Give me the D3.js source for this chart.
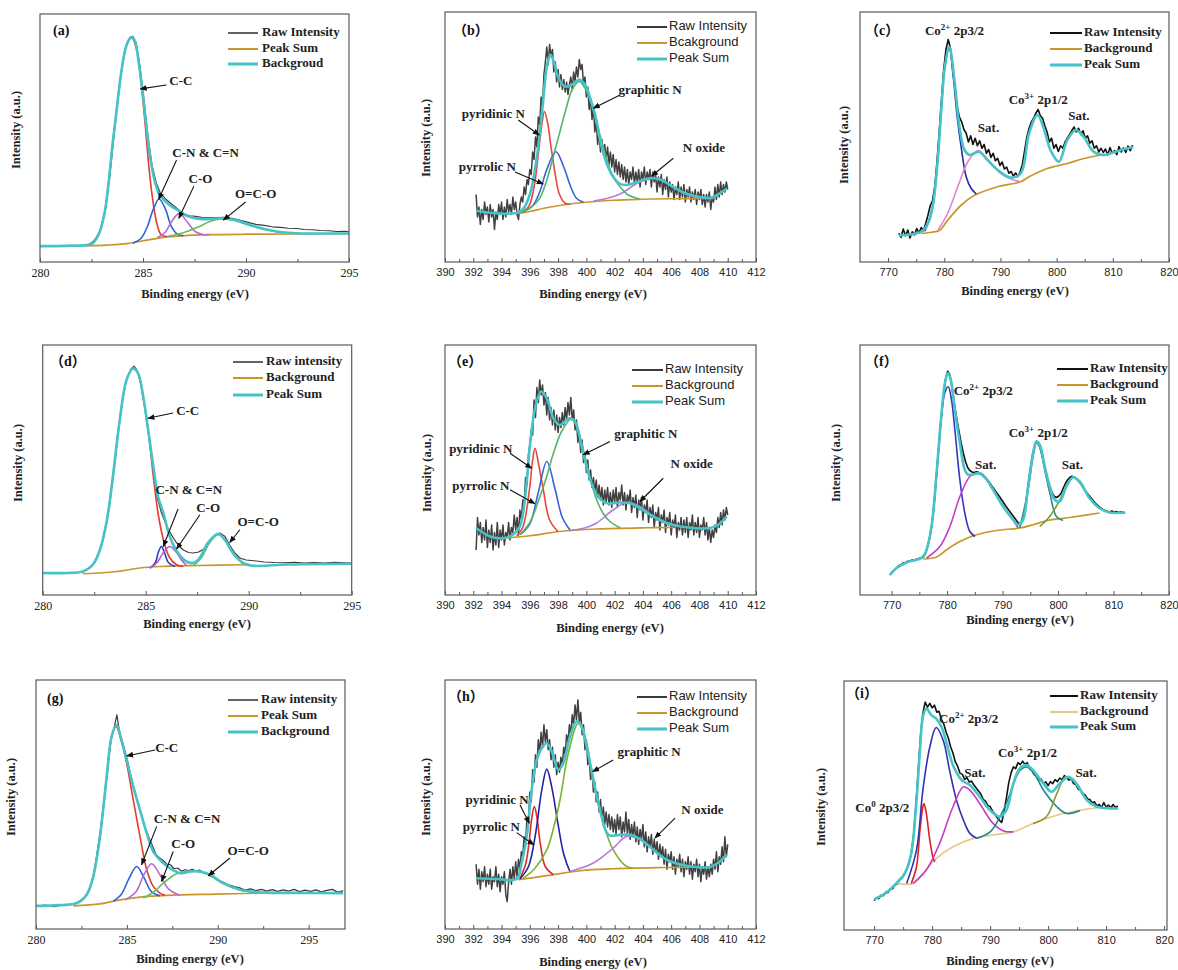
<!DOCTYPE html>
<html><head><meta charset="utf-8">
<script src="https://cdn.jsdelivr.net/npm/d3@7"></script>
<style>body{margin:0;background:#fff}svg{display:block}</style>
</head><body>
<svg id="chart" width="1178" height="970"></svg>
<script>
// ======================= DATA (eV, intensity in % of plot height) =======================
// ---- (a) C 1s ----
const aRaw = [[280.0,6.3],[280.49,6.6],[280.98,6.4],[281.47,6.7],[281.96,6.5],[282.35,7.0],[282.65,8.6],[282.94,13],[283.19,22],[283.38,34],[283.58,50],[283.77,65],[283.97,78],[284.17,87],[284.36,90.5],[284.51,91],[284.66,88.5],[284.85,79],[285.05,65],[285.25,50],[285.44,39],[285.64,32],[285.83,28],[286.08,25.5],[286.37,23.5],[286.67,21.5],[286.96,19.5],[287.25,18.6],[287.55,18.4],[287.84,18.0],[288.14,17.8],[288.53,17.9],[288.92,18.0],[289.31,17.6],[289.71,16.8],[290.1,16.0],[290.49,15.2],[290.88,14.8],[291.27,14.2],[291.67,14.0],[292.06,13.6],[292.45,13.5],[292.84,13.1],[293.24,13.0],[293.63,12.7],[294.02,12.6],[294.41,12.3],[294.8,12.4],[295.0,12.2]];
const aEnv = [[280,6.4],[281.27,6.5],[282.25,6.8],[282.55,7.5],[282.84,11],[283.14,20],[283.33,32],[283.53,48],[283.73,62],[283.92,75],[284.12,85],[284.31,89.5],[284.46,90.6],[284.61,89],[284.8,80],[285.0,67],[285.2,52],[285.39,40],[285.59,32],[285.78,27.5],[286.08,24.5],[286.37,22.5],[286.76,20.5],[287.16,18.5],[287.65,17.5],[288.14,17.3],[288.82,17.6],[289.41,17],[290.1,15.2],[290.88,13.3],[291.57,12.2],[292.25,11.7],[293.04,11.5],[295,11.5]];
const aBg = [[282.25,6.5],[283.24,6.8],[284.22,7.4],[285.2,8.8],[286.18,10.1],[287.16,10.7],[288.14,11.0],[290.1,11.2],[292.06,11.3],[295,11.5]];
const aCC = [[282.45,7.2],[282.84,11],[283.14,20],[283.33,32],[283.53,48],[283.73,62],[283.92,75],[284.12,85],[284.31,89.5],[284.46,90.4],[284.71,85],[284.9,73],[285.1,56],[285.29,38],[285.49,24],[285.69,15],[285.88,11],[286.18,10.2]];
const aCN = [[284.51,7.6],[284.9,9.5],[285.2,14],[285.49,21],[285.78,25.4],[286.08,21.5],[286.37,14.5],[286.67,11.2],[286.96,10.6]];
const aCO = [[285.69,9.8],[286.08,12],[286.37,16],[286.76,19.6],[287.16,16],[287.55,12.2],[287.94,11],[288.24,10.9]];
const aOCO = [[286.18,10.3],[286.96,11.8],[287.65,14],[288.34,16.6],[288.82,17.4],[289.41,16.8],[290.1,15],[290.88,13.2],[291.57,12.1],[292.25,11.6]];
const aLegend = ['Raw Intensity','Peak Sum','Backgroud'];
const aNotes = [
 {t:'C-C', x:286.84, y:71.4, a:[286.14,71.4,284.87,69.8]},
 {t:'C-N & C=N', x:288.04, y:42.3, a:[286.63,41.1,285.76,25.3]},
 {t:'C-O', x:287.79, y:31.9, a:[287.47,30.6,286.74,17.6]},
 {t:'O=C-O', x:290.47, y:25.8, a:[289.98,24.2,288.9,16.9]}];

// ---- (b) N 1s ----
const bRawStart = 392.2, bRawStep = 0.1;
const bRaw = [27,18,22,15,21,17,24,19,22,16,
 23,18,21,13,20,17,23,19,24,17,
 22,18,25,20,23,19,26,21,24,19,
 17,23,26,24,30,27,33,31,37,35,
 44,41,50,46,58,55,66,62,75,80,
 86,79,87,82,85,76,80,72,77,70,
 75,69,73,68,72,67,71,74,69,76,
 72,78,74,81,77,79,71,74,66,70,
 61,65,57,62,52,56,47,52,44,49,
 43,47,41,46,39,44,38,43,36,41,
 35,40,34,39,33,38,32,37,31,36,
 33,38,31,36,32,37,30,36,33,38,
 31,36,33,37,30,36,32,35,28,34,
 30,35,27,33,29,34,26,32,28,31,
 25,30,27,32,25,30,26,31,24,29,
 26,30,24,28,25,29,23,28,25,29,
 23,27,22,27,24,28,21,26,24,30,
 25,31,26,32,27,31,28,32,29];
const bEnv = [[392.2,20.5],[393,19.8],[394,19.3],[395,19.6],[395.5,21],[396,27],[396.5,42],[396.9,62],[397.2,78],[397.45,83],[397.7,80],[398.0,74],[398.5,70.2],[399.0,71],[399.5,73],[399.9,71],[400.3,65],[400.7,57],[401.0,48],[401.4,40],[401.8,35],[402.3,31.5],[402.8,30.8],[403.5,31.8],[404.2,33.2],[404.75,33.6],[405.3,32.8],[406,30.5],[406.8,28],[407.6,26.5],[408.3,25.8],[408.8,25.7],[409.3,27],[409.95,29.4]];
const bBg = [[395.1,19.4],[396,20.2],[397,21.5],[398,22.5],[398.85,23.2],[400,23.9],[401.9,24.7],[404,25.1],[406,25.3],[409,25.4]];
const bPyridinic = [[395.3,19.8],[395.9,22],[396.3,30],[396.6,43],[396.85,55],[397.03,60.2],[397.25,56],[397.5,46],[397.8,35],[398.1,27],[398.5,23.5],[398.85,23.1]];
const bPyrrolic = [[395.5,20],[396.2,22.5],[396.7,28],[397.2,37],[397.85,44.1],[398.4,38],[398.9,30],[399.3,25.5],[399.8,23.9]];
const bGraphitic = [[395.3,19.8],[396.0,21.5],[396.7,25.5],[397.2,32.8],[397.7,43],[398.1,51.5],[398.6,62],[399.0,69],[399.5,72.2],[400.0,68.5],[400.5,60.8],[401.0,50],[401.4,42],[401.9,34],[402.4,30],[402.9,27],[403.3,26],[403.8,25.2]];
const bOxide = [[400.5,24.4],[401.5,25.5],[402.5,27.5],[403.3,30.5],[404,32.5],[404.74,33.4],[405.4,32.5],[406.1,30],[406.8,27.8],[407.5,26.2],[408.3,25.5]];
const bLegend = ['Raw Intensity','Bcakground','Peak Sum'];
const bNotes = [
 {t:'pyridinic N', x:393.42, y:57.6, a:[395.18,56.8,396.67,50.8]},
 {t:'pyrrolic N', x:393.0, y:36.4, a:[394.95,36.0,396.95,31.2]},
 {t:'graphitic N', x:404.5, y:67.2, a:[402.38,66.8,400.49,61.5]},
 {t:'N oxide', x:408.32, y:44.2, a:[406.15,41.5,404.62,34.4]}];

// ---- (c) Co 2p ----
const cRawStart = 771.9, cRawStep = 0.4;
const cRaw = [11.5,9.8,13.2,10.5,12.8,9.6,12.1,10.8,13.4,11.6,
 13.8,12.5,15.5,18.8,22.5,24.5,30,40,52,65,
 77,85,89,85.5,77,70,62,58,56,53,
 51.5,48,50.5,47,49.5,46.5,48.5,45.5,47,43.5,
 45,41.8,43.5,40.5,41.5,38.6,40,37.2,38,35.5,
 36.2,34.4,35.6,34.2,36,39,44.5,50,53.5,56,
 57.5,59.5,61,58.5,57.5,54.5,52,48,49.5,45.5,
 47,44.2,46.5,45.5,48,49.5,51,52.5,54,52,
 53.5,51,52.5,49.5,50.5,47.5,48.5,45.5,46.5,44,
 45.5,43.8,45.2,42.8,45.8,43.5,44.6,42.9,46.2,44,
 45.6,43.8,46.4,44.5,46.8];
const cEnv = [[771.9,10.5],[773,10.8],[774.5,11.2],[776,12.2],[777.2,16],[778,23],[778.8,40],[779.5,62],[780.1,78],[780.9,86],[781.8,72.9],[782.7,54.1],[783.6,44.8],[784.5,42.8],[786.2,44.1],[787.7,40.8],[789.5,36.8],[791.8,33.8],[793.6,35.4],[795.1,51.5],[796.6,58.8],[797.7,53.5],[798.9,44.8],[800.4,40.1],[801.9,48.8],[803.4,52.8],[804.8,50.1],[806.6,44.1],[808.4,42.8],[811,44.5],[813.7,46.1]];
const cBg = [[775.9,11.4],[777.5,11.8],[779.2,12.7],[780.6,16.7],[783,22.7],[785.4,26.7],[789.5,30.1],[793.6,32.1],[795.1,34.1],[798.3,37.4],[801.9,39.4],[804.5,41.2],[807.8,42.8]];
const cCo2 = [[776.5,12.3],[777.2,16],[778,23],[778.8,40],[779.5,62],[780.1,78],[780.9,85.6],[781.6,74],[782.3,58],[783,46.1],[783.9,34.1],[784.8,29.4],[785.7,27.2]];
const cSat = [[778.9,12.9],[780.6,19.4],[782.4,30.1],[784.2,40.1],[786.0,44.6],[787.7,41.1],[790.1,35.4],[792.4,32.8],[793.6,32.1]];
const cLegend = ['Raw Intensity','Background','Peak Sum'];
const cNotes = [
 {t:[['Co'],['2+',1],[' 2p3/2']], x:781.81, y:90.9},
 {t:'Sat.', x:787.87, y:52.0},
 {t:[['Co'],['3+',1],[' 2p1/2']], x:796.72, y:63.2},
 {t:'Sat.', x:803.97, y:56.8}];

// ---- (d) C 1s ----
const dRaw = [[279.99,8.7],[280.67,8.9],[281.35,8.6],[281.94,9.2],[282.33,11],[282.63,14.5],[282.92,22],[283.12,30],[283.31,41],[283.51,54],[283.7,67],[283.9,79],[284.09,87],[284.29,90.5],[284.44,91.5],[284.58,90],[284.78,84],[284.97,74],[285.17,62],[285.37,50],[285.56,39],[285.76,33],[285.95,29],[286.15,25.5],[286.35,22.7],[286.59,19.8],[286.83,18],[287.08,17.0],[287.32,16.8],[287.57,17.2],[287.81,18.3],[288.06,21.0],[288.3,23.5],[288.6,24.8],[288.84,23.5],[289.09,19.8],[289.33,16.8],[289.57,14.8],[289.87,14.0],[290.26,13.7],[290.75,13.2],[291.24,13.0],[291.73,12.9],[292.22,13.1],[292.71,12.8],[293.19,13.0],[293.68,12.8],[294.17,13.1],[294.66,12.9],[295.0,12.8]];
const dEnv = [[279.99,8.8],[281.16,8.8],[281.94,9.4],[282.43,12.1],[282.78,18.1],[283.12,30.1],[283.41,47.4],[283.74,70],[284.07,86],[284.39,90.7],[284.63,88.7],[284.88,79.4],[285.12,66],[285.37,51.4],[285.6,39.4],[285.86,32.7],[286.17,23.4],[286.57,16.8],[286.98,13.4],[287.3,12.8],[287.62,14.8],[288.01,20.8],[288.52,24.5],[288.84,22.1],[289.24,16.8],[289.73,12.8],[290.22,11.7],[291.92,12.2],[295.0,12.5]];
const dBg = [[281.94,8.5],[282.92,8.9],[283.58,9.4],[284.09,10.0],[284.71,10.8],[285.68,11.4],[287.62,11.8],[289.9,12.1]];
const dCC = [[281.94,9.3],[282.43,12.1],[282.78,18.1],[283.12,30.1],[283.41,47.4],[283.74,70],[284.07,86],[284.39,90.5],[284.63,88.5],[284.88,79],[285.12,66],[285.37,47.4],[285.6,32.7],[285.86,22.1],[286.17,14.8],[286.5,12.1],[286.82,11.4]];
const dCN = [[285.2,10.7],[285.47,13],[285.61,17],[285.76,19.4],[285.91,17],[286.1,13],[286.42,11.4]];
const dCO = [[285.2,10.7],[285.56,13],[285.86,17],[286.17,19.4],[286.45,17.5],[286.74,14],[286.98,11.8]];
const dOCO = [[287.32,11.8],[287.71,15],[288.11,21],[288.52,24.1],[288.89,21.5],[289.28,16],[289.77,12.2]];
const dLegend = ['Raw intensity','Background','Peak Sum'];
const dNotes = [
 {t:'C-C', x:287.04, y:72.0, a:[286.33,72.8,285.11,70.7]},
 {t:'C-N & C=N', x:287.09, y:40.5, a:[286.57,34.4,285.85,19.4]},
 {t:'C-O', x:288.03, y:33.4, a:[287.63,32.1,286.5,18.4]},
 {t:'O=C-O', x:290.46, y:27.7, a:[289.57,26.1,289.08,21.0]}];

// ---- (e) N 1s ----
const eRawStart = 392.2, eRawStep = 0.1;
const eRaw = [18,31,24,29,21,27,22,30,19,26,
 21,28,18,25,20,29,19,26,22,28,
 20,25,23,29,22,27,25,32,26,31,
 24,34,30,38,36,47,44,56,60,66,
 64,78,71,83,77,86,80,84,76,81,
 72,79,70,75,68,74,66,72,65,71,
 67,73,68,75,70,77,72,79,70,74,
 66,70,61,65,57,62,53,57,49,54,
 46,50,43,47,41,46,39,44,38,43,
 36,42,37,43,36,41,35,42,37,43,
 35,41,38,44,36,41,34,40,37,42,
 33,39,35,40,31,38,34,39,30,36,
 33,38,29,35,31,36,27,33,30,35,
 26,32,29,34,25,31,28,33,24,30,
 27,32,23,29,26,31,24,30,25,31,
 23,29,26,32,24,29,25,31,23,28,
 26,31,24,29,22,27,21,26,23,28,
 25,31,27,33,28,34,30,35,32];
const eEnv = [[392.2,26.8],[393.2,23.4],[394.1,22.7],[394.8,24.1],[395.3,27.4],[395.7,40.7],[396.0,59.4],[396.4,75.4],[396.8,81.4],[397.2,78.7],[397.67,70.7],[398.1,68],[398.8,70.7],[399.2,69.4],[399.67,59.4],[400.14,48.7],[400.73,40.1],[401.44,36.7],[402.38,37],[403.1,36.7],[403.8,34.7],[404.74,31.4],[405.68,28.8],[407.1,27.1],[408.75,26.8],[409.3,28],[409.93,31.4]];
const eBg = [[394.13,22.7],[396.0,23.7],[398.1,25.4],[400.73,26.4],[404.27,26.9],[406.15,27]];
const ePyridinic = [[395.07,23.7],[395.5,27],[395.97,42],[396.2,54],[396.37,58.7],[396.6,53],[396.96,42],[397.4,30],[398.0,25.3]];
const ePyrrolic = [[395.3,24.1],[396.0,28.5],[396.6,41],[397.2,53.4],[397.8,42],[398.3,31],[398.84,26]];
const eGraphitic = [[395.3,24.1],[396.0,29],[396.72,39.4],[397.2,47.5],[397.67,56.7],[398.3,66],[398.96,70.5],[399.4,66],[399.9,55.4],[400.3,46],[400.73,38.1],[401.2,32.5],[401.67,29.4],[402.4,26.8]];
const eOxide = [[398.84,25.8],[400.0,27],[400.73,28.8],[401.9,34.1],[402.85,37],[403.8,35.4],[404.74,31.4],[405.9,28.1],[407.1,27.1]];
const eLegend = ['Raw Intensity','Background','Peak Sum'];
const eNotes = [
 {t:'pyridinic N', x:392.53, y:56.9, a:[394.6,56.7,396.13,50.7]},
 {t:'pyrrolic N', x:392.53, y:42.1, a:[394.6,42.1,396.36,36.5]},
 {t:'graphitic N', x:404.2, y:62.8, a:[401.67,61.4,399.78,56.1]},
 {t:'N oxide', x:407.45, y:50.9, a:[405.44,46.7,403.79,37.4]}];

// ---- (f) Co 2p ----
const fRawStart = 769.7, fRawStep = 0.4;
const fRaw = [8.0,9.2,10.0,10.9,11.8,12.1,12.8,13.0,13.5,13.6,
 14.0,13.9,14.3,14.6,14.8,15.5,16.8,19.5,23.5,29,
 37,48,59,70,79,86,89.5,88,83,76.5,
 71,66,61,57,53.5,51,49.8,49.2,49,49.3,
 49,48.6,48,47,46,44.8,43.5,42.3,41,39.8,
 38.5,37.2,35.8,34.6,33.4,32.2,31,29.8,28.6,28.8,
 30.5,35,42,49,55,59,61.5,61,58,54,
 50,46.5,43.5,41,39.5,39,39.5,40.5,42.5,44.5,
 46,47,47.5,47.2,46.5,45.5,44.5,43,41.8,40.6,
 39.5,38.4,37.3,36.4,35.6,34.8,34.2,33.8,33.5,33.2,
 33.6,33.1,33.4,33.0,33.3,32.9,33.0];
const fEnv = [[769.7,8.1],[770.9,10.8],[772.7,13],[774.5,14.1],[775.7,15.2],[776.3,18.1],[777.2,27.4],[778.1,48.7],[779.0,72.7],[779.6,84.7],[780.1,88.7],[780.6,86.7],[781.4,74],[782.3,60.7],[783.2,50],[783.8,48.1],[785.0,48.4],[785.9,48.7],[787.1,46.3],[788.3,42.1],[790.1,35.4],[791.9,30.1],[792.8,28.1],[793.7,30.1],[794.6,43.4],[795.5,56.7],[796.1,61.4],[796.7,60.1],[797.6,51.4],[798.5,43.4],[799.4,38.1],[800.3,37.4],[801.5,43.4],[802.7,47.1],[803.9,45.4],[805.7,38.7],[807.5,34.7],[809.3,33],[812.1,33]];
const fBg = [[775.7,14.4],[778.1,15.2],[779.9,18.1],[782.3,21.4],[785.3,24.1],[788.9,25.8],[793.1,26.8],[795.5,28.1],[797.9,29.7],[802.1,31],[807.5,32.8]];
const fCo2 = [[775.7,15],[776.3,18],[777.2,27.4],[778.1,48.7],[779.0,72],[779.6,81],[780.2,83.3],[780.8,78],[781.4,66],[782.3,46.1],[783.2,32.7],[784.1,25.4],[785,23.4]];
const fSat1 = [[776.3,14.8],[778.7,19.4],[780.5,27.4],[782.3,39.4],[784.1,47.4],[785.3,48.7],[786.5,47.5],[788.3,42],[790.1,35.4],[791.9,30],[792.8,26.8]];
const fCo3 = [[793.1,26.8],[794.6,42],[795.5,55.5],[796.1,60.8],[796.7,59],[797.6,50],[798.5,41],[799.7,31.4],[800.9,29.8]];
const fSat2 = [[796.7,27.4],[798.5,31.4],[800,36.7],[801.5,43.4],[802.7,47],[803.9,45.2],[805.7,38.5],[807.5,34.5]];
const fLegend = ['Raw Intensity','Background','Peak Sum'];
const fNotes = [
 {t:[['Co'],['2+',1],[' 2p3/2']], x:786.52, y:80.0},
 {t:'Sat.', x:786.97, y:50.5},
 {t:[['Co'],['3+',1],[' 2p1/2']], x:796.43, y:63.4},
 {t:'Sat.', x:802.59, y:50.5}];

// ---- (g) C 1s ----
const gRaw = [[280,9.2],[280.5,9.6],[281,9.0],[281.5,9.8],[282,10.0],[282.4,11],[282.7,13],[282.95,16],[283.15,21],[283.35,30],[283.55,40],[283.75,52],[283.95,65],[284.15,77],[284.3,81],[284.45,86],[284.6,79],[284.8,74],[285.0,68.5],[285.2,62],[285.4,56.5],[285.6,51],[285.8,46],[286.0,41],[286.2,37],[286.4,33.5],[286.6,30],[286.8,28.5],[287.0,27.5],[287.2,26],[287.4,25.8],[287.6,24.2],[287.8,24.5],[288.0,23.2],[288.2,23.8],[288.4,23.5],[288.6,24.0],[288.8,23.2],[289.0,23.7],[289.2,22.6],[289.4,22.3],[289.6,21.2],[289.8,20.6],[290.0,19.6],[290.3,18.8],[290.6,17.7],[290.9,17.0],[291.2,16.5],[291.5,15.6],[291.8,16.1],[292.1,15.4],[292.4,15.9],[292.7,15.2],[293.0,15.8],[293.3,15.1],[293.6,15.7],[293.9,15.2],[294.2,15.9],[294.5,15.0],[294.8,15.6],[295.1,15.1],[295.4,15.7],[295.7,14.9],[296.0,15.5],[296.3,15.9],[296.6,14.8],[296.9,15.3]];
const gEnv = [[280,9.3],[281,9.5],[282.24,10.4],[282.79,13.8],[283.15,21.1],[283.52,37.1],[283.89,61.2],[284.16,77.3],[284.44,82],[284.7,75.9],[284.99,67.9],[285.35,57.2],[285.72,47.8],[286.09,38.5],[286.45,31.1],[286.91,27.1],[287.37,24.4],[287.92,22.4],[288.47,23.1],[289.02,23.1],[289.57,21.8],[290.3,18.4],[291.22,15.8],[292.32,14.7],[294,14.5],[296.9,14.4]];
const gBg = [[282.05,9.3],[283.52,10.1],[284.62,11.7],[285.72,12.8],[287.19,13.5],[289.94,14],[292.32,14.4]];
const gCC = [[282.24,10.4],[282.79,13.8],[283.15,21.1],[283.52,37.1],[283.89,61.2],[284.16,77.3],[284.4,81.3],[284.7,75.5],[285.0,66],[285.35,51.9],[285.72,37.2],[286.09,23.8],[286.45,17.1],[286.82,14.4],[287.1,13.5]];
const gCN = [[284.25,11.2],[284.7,14],[285.1,20],[285.54,25.1],[285.95,20.5],[286.35,15],[286.82,13.3]];
const gCO = [[284.9,11.7],[285.5,15],[285.95,22],[286.36,26.2],[286.8,22],[287.3,16],[287.92,13.5]];
const gOCO = [[285.9,12.4],[286.5,15],[287.0,18.4],[287.74,22.2],[288.47,23.1],[289.02,23],[289.57,21.7],[290.3,18.3],[291.22,15.7],[292.32,14.6]];
const gLegend = ['Raw intensity','Peak Sum','Background'];
const gNotes = [
 {t:'C-C', x:287.19, y:71.1, a:[286.55,71.9,284.99,69.5]},
 {t:'C-N & C=N', x:288.31, y:42.6, a:[286.64,41.2,285.81,25.8]},
 {t:'C-O', x:288.1, y:32.6, a:[287.55,31.1,286.91,19.1]},
 {t:'O=C-O', x:291.68, y:29.8, a:[290.67,28.5,289.48,21.4]}];

// ---- (h) N 1s ----
const hRawStart = 392.2, hRawStep = 0.1;
const hRaw = [26,18,24,16,23,19,25,17,22,18,
 24,16,21,19,25,17,22,15,21,18,
 23,14,11,19,24,18,25,20,27,21,
 28,24,31,29,37,34,45,43,55,51,
 64,59,70,65,76,71,79,73,82,75,
 80,72,76,68,73,65,70,62,67,63,
 69,66,73,70,78,75,82,78,86,82,
 90,84,92,83,87,78,82,72,76,66,
 69,60,64,55,59,51,55,47,52,44,
 49,42,47,41,46,40,45,39,44,38,
 46,40,45,37,43,39,47,38,44,36,
 42,37,43,35,41,34,40,36,42,33,
 39,31,37,33,38,30,36,31,35,28,
 34,29,33,26,32,24,30,27,31,24,
 29,22,28,25,30,23,28,21,27,24,
 29,22,27,20,26,23,28,21,26,19,
 25,22,27,20,25,21,26,22,28,24,
 31,23,29,26,33,27,37,29,34];
const hEnv = [[392.2,20.4],[393.66,20.1],[395.07,20.1],[395.42,26.5],[395.78,37.1],[396.13,55.9],[396.49,67.9],[396.84,72.6],[397.2,74.6],[397.55,71.3],[398.02,63.9],[398.37,66.6],[398.84,77.3],[399.3,83.3],[399.67,81.3],[400.02,73.3],[400.5,59.9],[400.97,47.9],[401.56,37.8],[402.38,37.8],[403.1,37.8],[403.8,36.1],[404.74,31.8],[405.68,27.8],[407.1,25.4],[408.75,24.9],[409.3,26.5],[409.93,29.8]];
const hBg = [[395.19,19.8],[397.2,21.4],[399.55,23.4],[401.9,24.2],[405.45,24.7],[408,24.9]];
const hPyridinic = [[395.3,20.2],[395.7,26],[395.95,35],[396.15,45],[396.32,49.2],[396.5,45],[396.75,34],[397.1,25],[397.67,21.8]];
const hPyrrolic = [[395.3,20.1],[395.9,25],[396.4,38],[396.85,56],[397.2,64.2],[397.55,57],[398.0,42],[398.4,30],[398.84,23.1]];
const hGraphitic = [[395.54,20.4],[396.3,24],[397.2,31.8],[397.7,41],[398.14,51.9],[398.7,70],[399.43,82.6],[400.0,75],[400.5,58.6],[401.2,42.5],[401.9,31.8],[402.85,25.1],[403.3,24.5]];
const hOxide = [[398.84,23.1],[400.5,26.5],[401.9,32.5],[402.85,37.2],[403.8,36.1],[404.74,31.8],[405.68,27.8],[407.1,25.4]];
const hLegend = ['Raw Intensity','Background','Peak Sum'];
const hNotes = [
 {t:'pyridinic N', x:393.69, y:50.3, a:[395.3,49.9,395.96,42.5]},
 {t:'pyrrolic N', x:393.27, y:39.4, a:[395.07,38.7,396.29,33.8]},
 {t:'graphitic N', x:404.43, y:69.3, a:[401.9,67.9,400.45,63.2]},
 {t:'N oxide', x:408.21, y:46.2, a:[406.27,44.5,404.85,36.5]}];

// ---- (i) Co 2p ----
const iRawStart = 770.0, iRawStep = 0.4;
const iRaw = [11.8,13.0,12.6,14.0,13.8,15.2,15.0,16.5,16.6,18.2,
 18.5,20.3,20.8,22.5,24.5,26.5,31,38,50,64,
 78,87,91.5,89.5,91,89.2,90.3,87.5,87.8,84.5,
 82.8,79.5,77,73.5,71,67.5,65.8,63,62.5,60.5,
 61.2,59.4,59.8,58.2,57,55.8,54.6,52.5,51.8,50,
 49.6,47.8,46.5,45.2,44,43.2,47.5,53,59,63,
 65.5,64.8,67.2,66.4,67.8,66.5,67.2,64.8,64,62.4,
 61.8,60.2,60.6,58.8,59.5,58,59.6,58.8,60.4,59.6,
 61,60.4,62,61.2,60.2,60.8,58.8,58.4,56.6,56,
 54.8,54.2,52.6,52.4,51,51.5,49.8,50.4,49.2,51.2,
 49.4,50.2,49,50.4,49.2,49.8];
const iEnv = [[770,12.3],[772.1,15],[773.8,18.7],[775.3,22.7],[776.4,30.8],[777.3,52.1],[777.9,72.2],[778.4,85.6],[779.0,88.9],[779.9,86.2],[780.7,84.9],[781.6,81.6],[782.5,74.9],[783.6,66.2],[785.1,60.2],[786.5,58.2],[788.2,53.5],[790,48.1],[791.7,45.5],[792.8,48.1],[794,58.8],[795.1,64.8],[796.3,66.2],[797.4,64.2],[799.2,58.8],[800.6,55.5],[802,58.8],[803.5,61.5],[804.9,58.8],[806.7,52.1],[808.4,49.5],[812.1,48.8]];
const iBg = [[773.8,18.7],[776.7,18.7],[778.4,22.7],[780.7,28.7],[783.6,33.4],[787.1,36.8],[791.1,38.4],[794,39.4],[797.4,42.8],[801.5,46.1],[805.5,48.1],[808.4,49.1]];
const iCo0 = [[776.4,18.7],[777.3,25.4],[777.9,40.1],[778.4,49.5],[778.6,50.8],[779.0,46.8],[779.6,36.1],[780.2,28.7],[780.5,27.4]];
const iCo2 = [[775.6,18.7],[777.3,32.1],[778.4,56.2],[779.6,73.5],[780.7,81.3],[781.9,76.2],[783,64.2],[784.2,52.1],[785.4,44.1],[786.5,38.8],[787.7,36.8]];
const iSat1 = [[776.7,18.7],[779,24.1],[781.3,34.8],[783.6,49.5],[785.4,57.5],[786.5,56.2],[788.2,50.8],[790.5,42.8],[792.3,39.8],[794,39.4]];
const iCo3 = [[787.7,36.8],[790,39.4],[791.7,45.5],[793,52],[794,58.5],[795.1,64],[796.3,65.5],[797.4,63.5],[799.2,56.2],[801.5,49.5],[803.2,46.8],[805.5,48]];
const iSat2 = [[797.4,42.8],[799.7,45.5],[801.5,54.8],[803,61.5],[804.3,60],[806.7,52.1],[808.4,49.5]];
const iLegend = ['Raw Intensity','Background','Peak Sum'];
const iNotes = [
 {t:[['Co'],['2+',1],[' 2p3/2']], x:786.29, y:83.0},
 {t:'Sat.', x:787.37, y:61.6},
 {t:[['Co'],['3+',1],[' 2p1/2']], x:796.44, y:69.6},
 {t:'Sat.', x:806.54, y:61.6},
 {t:[['Co'],['0',1],[' 2p3/2']], x:771.4, y:47.5}];

// tick values
const cTicksMajor = [280,285,290,295], cTicksMinor = [282.5,287.5,292.5];
const gTicksMinor = [282.5,287.5,292.5];
const nTicksMajor = [390,392,394,396,398,400,402,404,406,408,410,412], nTicksMinor = [391,393,395,397,399,401,403,405,407,409,411];
const coTicksMajor = [770,780,790,800,810,820], coTicksMinor = [775,785,795,805,815];

// ======================= STYLE / LAYOUT =======================
const SERIF = '"Liberation Serif","Times New Roman",serif';
const SANS = '"Liberation Sans",Arial,sans-serif';
const LABELF = '"Liberation Serif","Noto Sans CJK SC",serif';
const RAWC = '#3a3a3a', ORG = '#c8962c', CYN = '#45c3c6';
const grid = (x0, dx, ys) => ys.map((v, i) => [x0 + i * dx, v]);

const panels = [
 {id:'a', label:'(a)', lab:[53,32], frame:[40,14,349,262], xDom:[280,295], major:cTicksMajor, minor:cTicksMinor, tf:SERIF, tfs:12,
  yT:[17,130], xT:[195,295], raw:aRaw, rawC:RAWC, rawW:1.2, env:aEnv, bg:aBg, bgC:ORG,
  comps:[[aCC,'#e8392f'],[aCN,'#2f62d6'],[aCO,'#b46cd6'],[aOCO,'#62bd5e']],
  leg:{x1:228,x2:258,tx:262,ys:[33,49,64],font:SERIF,bold:true,texts:aLegend,cols:[RAWC,ORG,CYN],ws:[1.6,2,3]}, notes:aNotes, nf:SERIF},
 {id:'b', label:'（b）', lab:[453,32], frame:[445,12,756,262], xDom:[390,412], major:nTicksMajor, minor:nTicksMinor, tf:SANS, tfs:11,
  yT:[427,138], xT:[593,295], raw:grid(bRawStart,bRawStep,bRaw), rawC:'#404040', rawW:1.5, env:bEnv, bg:bBg, bgC:ORG,
  comps:[[bPyridinic,'#e8473d'],[bPyrrolic,'#3563d8'],[bGraphitic,'#55b468'],[bOxide,'#b07ed8']],
  leg:{x1:637,x2:667,tx:669,ys:[27,43,59],font:SANS,bold:false,texts:bLegend,cols:[RAWC,ORG,CYN],ws:[2,2,3]}, notes:bNotes, nf:SERIF},
 {id:'c', label:'（c）', lab:[865,32], frame:[860,12,1169,262], xDom:[765,820], major:coTicksMajor, minor:coTicksMinor, tf:SANS, tfs:11,
  yT:[845,145], xT:[1015,292], raw:grid(cRawStart,cRawStep,cRaw), rawC:'#111', rawW:1.6, env:cEnv, bg:cBg, bgC:ORG,
  comps:[[cCo2,'#2a2aa8'],[cSat,'#e484c8']],
  leg:{x1:1050,x2:1082,tx:1084,ys:[33,49,65],font:SERIF,bold:true,texts:cLegend,cols:['#111',ORG,CYN],ws:[2,2,3]}, notes:cNotes, nf:SERIF},
 {id:'d', label:'（d）', lab:[50,363], frame:[42.7,345,351.7,595], xDom:[280,295], major:cTicksMajor, minor:cTicksMinor, tf:SERIF, tfs:12,
  yT:[19,463], xT:[197,625], raw:dRaw, rawC:RAWC, rawW:1.2, env:dEnv, bg:dBg, bgC:ORG,
  comps:[[dCC,'#e8392f'],[dCN,'#2a3ec8'],[dCO,'#b060d8'],[dOCO,'#62bd5e']],
  leg:{x1:233,x2:263,tx:266,ys:[362,378,395],font:SERIF,bold:true,texts:dLegend,cols:[RAWC,ORG,CYN],ws:[1.6,2,3]}, notes:dNotes, nf:SERIF},
 {id:'e', label:'（e）', lab:[448,363], frame:[445,345,756,595], xDom:[390,412], major:nTicksMajor, minor:nTicksMinor, tf:SANS, tfs:11,
  yT:[428,473], xT:[610,629], raw:grid(eRawStart,eRawStep,eRaw), rawC:'#404040', rawW:1.5, env:eEnv, bg:eBg, bgC:ORG,
  comps:[[ePyridinic,'#e8473d'],[ePyrrolic,'#3563d8'],[eGraphitic,'#55b468'],[eOxide,'#b07ed8']],
  leg:{x1:632,x2:663,tx:665,ys:[370,386,402],font:SANS,bold:false,texts:eLegend,cols:[RAWC,ORG,CYN],ws:[2,2,3]}, notes:eNotes, nf:SERIF},
 {id:'f', label:'（f）', lab:[865,363], frame:[860,345,1169,595], xDom:[764.3,820], major:coTicksMajor, minor:coTicksMinor, tf:SANS, tfs:11,
  yT:[837,463], xT:[1020,621], raw:grid(fRawStart,fRawStep,fRaw), rawC:'#111', rawW:1.6, env:fEnv, bg:fBg, bgC:ORG,
  comps:[[fCo2,'#3434c4'],[fSat1,'#c83cc8'],[fCo3,'#2b8c8c'],[fSat2,'#7c9c2c']],
  leg:{x1:1057,x2:1088,tx:1090,ys:[369,385,401],font:SERIF,bold:true,texts:fLegend,cols:['#111',ORG,CYN],ws:[2,2,3]}, notes:fNotes, nf:SERIF},
 {id:'g', label:'(g)', lab:[47,700], frame:[36,680,345,929], xDom:[280,297], major:cTicksMajor, minor:gTicksMinor, tf:SERIF, tfs:12,
  yT:[12,797], xT:[190,960], raw:gRaw, rawC:RAWC, rawW:1.2, env:gEnv, bg:gBg, bgC:ORG,
  comps:[[gCC,'#e8392f'],[gCN,'#2f62d6'],[gCO,'#b46cd6'],[gOCO,'#62bd5e']],
  leg:{x1:228,x2:258,tx:261,ys:[700,716,732],font:SERIF,bold:true,texts:gLegend,cols:[RAWC,ORG,CYN],ws:[1.6,2,3]}, notes:gNotes, nf:SERIF},
 {id:'h', label:'（h）', lab:[448,698], frame:[445,680,756,929], xDom:[390,412], major:nTicksMajor, minor:nTicksMinor, tf:SANS, tfs:11,
  yT:[427,797], xT:[593,963], raw:grid(hRawStart,hRawStep,hRaw), rawC:'#404040', rawW:1.5, env:hEnv, bg:hBg, bgC:ORG,
  comps:[[hPyridinic,'#e02828'],[hPyrrolic,'#2424a8'],[hGraphitic,'#78b432'],[hOxide,'#b57fd8']],
  leg:{x1:637,x2:667,tx:669,ys:[697,713,729],font:SANS,bold:false,texts:hLegend,cols:[RAWC,ORG,CYN],ws:[2,2,3]}, notes:hNotes, nf:SERIF},
 {id:'i', label:'（i）', lab:[846,695], frame:[844,681,1167,930], xDom:[764.8,820.5], major:coTicksMajor, minor:coTicksMinor, tf:SANS, tfs:11,
  yT:[822,807], xT:[1000,962], raw:grid(iRawStart,iRawStep,iRaw), rawC:'#111', rawW:1.6, env:iEnv, bg:iBg, bgC:'#e9c88c',
  comps:[[iCo0,'#e02020'],[iCo2,'#3232b4'],[iSat1,'#c83cc8'],[iCo3,'#1f8a8a'],[iSat2,'#8a9a2c']],
  leg:{x1:1050,x2:1078,tx:1080,ys:[696,712,727],font:SERIF,bold:true,texts:iLegend,cols:['#111','#e9c88c',CYN],ws:[2,2,3]}, notes:iNotes, nf:SERIF}
];

// ======================= RENDER =======================
const svg = d3.select('#chart');
svg.append('rect').attr('width',1178).attr('height',970).attr('fill','#fff');
const defs = svg.append('defs');
defs.append('marker').attr('id','arr').attr('viewBox','0 0 10 10').attr('refX',9).attr('refY',5)
  .attr('markerWidth',6.5).attr('markerHeight',6.5).attr('orient','auto')
  .append('path').attr('d','M0,1L10,5L0,9z').attr('fill','#111');

function writeText(sel, t){
  if (typeof t === 'string') { sel.text(t); return; }
  t.forEach(([s, sup]) => {
    if (sup) sel.append('tspan').attr('dy', -5).attr('font-size', '9px').text(s);
    else {
      const ts = sel.append('tspan').text(s);
      if (sel.selectAll('tspan').size() > 1) ts.attr('dy', 5);
    }
  });
}

panels.forEach(p => {
  const [L,T,R,B] = p.frame;
  const x = d3.scaleLinear().domain(p.xDom).range([L,R]);
  const y = d3.scaleLinear().domain([0,100]).range([B,T]);
  const g = svg.append('g').attr('class','panel-'+p.id);
  defs.append('clipPath').attr('id','clip-'+p.id).append('rect')
    .attr('x',L).attr('y',T).attr('width',R-L).attr('height',B-T);
  const plot = g.append('g').attr('clip-path',`url(#clip-${p.id})`);
  const smooth = d3.line().x(d=>x(d[0])).y(d=>y(d[1])).curve(d3.curveCatmullRom.alpha(0.5));
  const lin = d3.line().x(d=>x(d[0])).y(d=>y(d[1]));

  plot.append('path').attr('d',lin(p.raw)).attr('fill','none').attr('stroke',p.rawC)
    .attr('stroke-width',p.rawW).attr('stroke-linejoin','round');
  plot.append('path').attr('d',smooth(p.bg)).attr('fill','none').attr('stroke',p.bgC).attr('stroke-width',1.7);
  p.comps.forEach(([pts,col]) => {
    plot.append('path').attr('d',smooth(pts)).attr('fill','none').attr('stroke',col).attr('stroke-width',1.6);
  });
  plot.append('path').attr('d',smooth(p.env)).attr('fill','none').attr('stroke',CYN)
    .attr('stroke-width',2.6).attr('stroke-linejoin','round');

  // axes (ticks inward)
  const axMaj = g.append('g').attr('transform',`translate(0,${B})`)
    .call(d3.axisBottom(x).tickValues(p.major).tickSize(-4).tickPadding(6).tickFormat(d3.format('d')));
  axMaj.select('.domain').remove();
  axMaj.selectAll('line').attr('stroke','#555');
  axMaj.selectAll('text').attr('font-family',p.tf).attr('font-size',p.tfs+'px').attr('fill','#222');
  const axMin = g.append('g').attr('transform',`translate(0,${B})`)
    .call(d3.axisBottom(x).tickValues(p.minor).tickSize(-3).tickFormat(''));
  axMin.select('.domain').remove();
  axMin.selectAll('line').attr('stroke','#555');

  g.append('rect').attr('x',L).attr('y',T).attr('width',R-L).attr('height',B-T)
    .attr('fill','none').attr('stroke','#5a5a5a').attr('stroke-width',1.2);

  // axis titles
  g.append('text').attr('x',p.xT[0]).attr('y',p.xT[1]).attr('text-anchor','middle').attr('dominant-baseline','middle')
    .attr('font-family',SERIF).attr('font-weight','bold').attr('font-size','12.5px').attr('fill','#222').text('Binding energy (eV)');
  g.append('text').attr('transform',`translate(${p.yT[0]},${p.yT[1]}) rotate(-90)`).attr('text-anchor','middle').attr('dominant-baseline','middle')
    .attr('font-family',SERIF).attr('font-weight','bold').attr('font-size','12.5px').attr('fill','#222').text('Intensity (a.u.)');

  // panel label
  g.append('text').attr('x',p.lab[0]).attr('y',p.lab[1]).attr('dominant-baseline','middle')
    .attr('font-family',LABELF).attr('font-weight','bold').attr('font-size','14px').attr('fill','#111').text(p.label);

  // legend
  const lg = p.leg;
  lg.texts.forEach((t,k) => {
    g.append('line').attr('x1',lg.x1).attr('x2',lg.x2).attr('y1',lg.ys[k]).attr('y2',lg.ys[k])
      .attr('stroke',lg.cols[k]).attr('stroke-width',lg.ws[k]);
    g.append('text').attr('x',lg.tx).attr('y',lg.ys[k]).attr('dominant-baseline','middle')
      .attr('font-family',lg.font).attr('font-weight',lg.bold?'bold':'normal').attr('font-size','13px').attr('fill','#222').text(t);
  });

  // annotations
  p.notes.forEach(n => {
    const tx = g.append('text').attr('x',x(n.x)).attr('y',y(n.y)).attr('text-anchor','middle')
      .attr('font-family',p.nf).attr('font-weight','bold').attr('font-size','13px').attr('fill','#222');
    writeText(tx, n.t);
    if (n.a) {
      g.append('line').attr('x1',x(n.a[0])).attr('y1',y(n.a[1])).attr('x2',x(n.a[2])).attr('y2',y(n.a[3]))
        .attr('stroke','#111').attr('stroke-width',1.1).attr('marker-end','url(#arr)');
    }
  });
});
</script>
</body></html>
